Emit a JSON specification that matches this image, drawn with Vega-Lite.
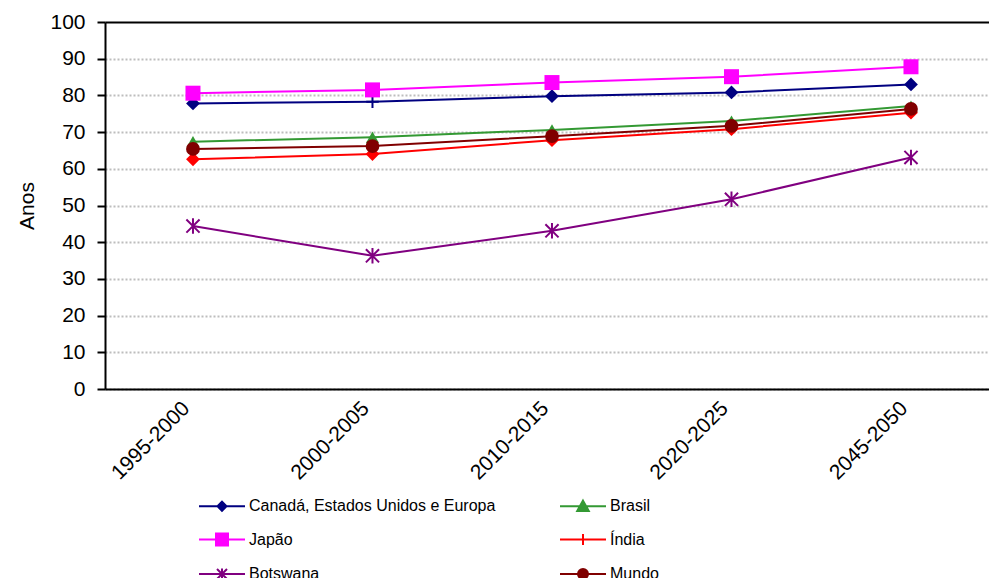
{
  "$schema": "https://vega.github.io/schema/vega-lite/v6.json",
  "width": 884,
  "height": 367,
  "autosize": {"type": "none"},
  "padding": {"left": 105, "top": 22, "right": 0, "bottom": 189},
  "background": "white",
  "config": {"font": "Liberation Sans", "view": {"stroke": null}},
  "data": {
    "values": [
      {"serie": "Canadá, Estados Unidos e Europa", "periodo": "1995-2000", "anos": 77.8},
      {"serie": "Canadá, Estados Unidos e Europa", "periodo": "2000-2005", "anos": 78.3},
      {"serie": "Canadá, Estados Unidos e Europa", "periodo": "2010-2015", "anos": 79.8},
      {"serie": "Canadá, Estados Unidos e Europa", "periodo": "2020-2025", "anos": 80.8},
      {"serie": "Canadá, Estados Unidos e Europa", "periodo": "2045-2050", "anos": 83.0},
      {"serie": "Brasil", "periodo": "1995-2000", "anos": 67.4},
      {"serie": "Brasil", "periodo": "2000-2005", "anos": 68.6},
      {"serie": "Brasil", "periodo": "2010-2015", "anos": 70.6},
      {"serie": "Brasil", "periodo": "2020-2025", "anos": 73.0},
      {"serie": "Brasil", "periodo": "2045-2050", "anos": 77.1},
      {"serie": "Japão", "periodo": "1995-2000", "anos": 80.6},
      {"serie": "Japão", "periodo": "2000-2005", "anos": 81.5},
      {"serie": "Japão", "periodo": "2010-2015", "anos": 83.5},
      {"serie": "Japão", "periodo": "2020-2025", "anos": 85.1},
      {"serie": "Japão", "periodo": "2045-2050", "anos": 87.8},
      {"serie": "Índia", "periodo": "1995-2000", "anos": 62.6},
      {"serie": "Índia", "periodo": "2000-2005", "anos": 64.0},
      {"serie": "Índia", "periodo": "2010-2015", "anos": 67.8},
      {"serie": "Índia", "periodo": "2020-2025", "anos": 70.8},
      {"serie": "Índia", "periodo": "2045-2050", "anos": 75.3},
      {"serie": "Botswana", "periodo": "1995-2000", "anos": 44.4},
      {"serie": "Botswana", "periodo": "2000-2005", "anos": 36.3},
      {"serie": "Botswana", "periodo": "2010-2015", "anos": 43.1},
      {"serie": "Botswana", "periodo": "2020-2025", "anos": 51.7},
      {"serie": "Botswana", "periodo": "2045-2050", "anos": 63.1},
      {"serie": "Mundo", "periodo": "1995-2000", "anos": 65.4},
      {"serie": "Mundo", "periodo": "2000-2005", "anos": 66.2},
      {"serie": "Mundo", "periodo": "2010-2015", "anos": 68.9},
      {"serie": "Mundo", "periodo": "2020-2025", "anos": 71.7},
      {"serie": "Mundo", "periodo": "2045-2050", "anos": 76.3}
    ]
  },
  "encoding": {
    "x": {
      "field": "periodo",
      "type": "ordinal",
      "scale": {"type": "point", "padding": 0.4624, "align": 0.53},
      "axis": {
        "title": null,
        "labelAngle": -45,
        "labelAlign": "right",
        "labelBaseline": "middle",
        "ticks": false,
        "tickSize": 0,
        "labelPadding": 16,
        "labelOffset": -7,
        "labelFontSize": 21,
        "labelColor": "black",
        "domainColor": "black",
        "domainWidth": 2,
        "grid": false
      }
    },
    "y": {
      "field": "anos",
      "type": "quantitative",
      "scale": {"domain": [0, 100], "nice": false, "zero": true},
      "axis": {
        "values": [0, 10, 20, 30, 40, 50, 60, 70, 80, 90, 100],
        "labelOverlap": false,
        "title": "Anos",
        "titleFontSize": 21,
        "titleFontWeight": "normal",
        "titleColor": "black",
        "titlePadding": 12,
        "grid": true,
        "gridColor": {"condition": {"test": "datum.value === 100", "value": "black"}, "value": "#bdbdbd"},
        "gridDash": {"condition": {"test": "datum.value === 100", "value": []}, "value": [2, 2]},
        "gridWidth": 2,
        "domainColor": "black",
        "domainWidth": 2,
        "tickColor": "black",
        "tickWidth": 2,
        "tickSize": 8,
        "labelFontSize": 21,
        "labelColor": "black",
        "labelPadding": 12
      }
    }
  },
  "layer": [
    {
      "mark": {"type": "line", "strokeWidth": 2},
      "encoding": {
        "color": {
          "field": "serie",
          "type": "nominal",
          "scale": {
            "domain": ["Canadá, Estados Unidos e Europa", "Brasil", "Japão", "Índia", "Botswana", "Mundo"],
            "range": ["#000080", "#339933", "#FF00FF", "#FF0000", "#800080", "#800000"]
          },
          "legend": null
        }
      }
    },
    {
      "transform": [{"filter": "datum.serie === 'Canadá, Estados Unidos e Europa' && datum.periodo !== '2000-2005'"}],
      "mark": {"type": "point", "shape": "diamond", "filled": true, "opacity": 1, "size": 190},
      "encoding": {"color": {"field": "serie", "type": "nominal", "legend": null}}
    },
    {
      "transform": [{"filter": "datum.serie === 'Canadá, Estados Unidos e Europa' && datum.periodo === '2000-2005'"}],
      "mark": {"type": "point", "shape": "M0,-1V1M-1,0H1", "filled": false, "opacity": 1, "strokeWidth": 2, "size": 156},
      "encoding": {"color": {"field": "serie", "type": "nominal", "legend": null}}
    },
    {
      "transform": [{"filter": "datum.serie === 'Brasil'"}],
      "mark": {"type": "point", "shape": "triangle-up", "filled": true, "opacity": 1, "size": 170},
      "encoding": {"color": {"field": "serie", "type": "nominal", "legend": null}}
    },
    {
      "transform": [{"filter": "datum.serie === 'Japão'"}],
      "mark": {"type": "point", "shape": "square", "filled": true, "opacity": 1, "size": 225},
      "encoding": {"color": {"field": "serie", "type": "nominal", "legend": null}}
    },
    {
      "transform": [{"filter": "datum.serie === 'Índia'"}],
      "mark": {"type": "point", "shape": "diamond", "filled": true, "opacity": 1, "size": 190},
      "encoding": {"color": {"field": "serie", "type": "nominal", "legend": null}}
    },
    {
      "transform": [{"filter": "datum.serie === 'Botswana'"}],
      "mark": {"type": "point", "shape": "M0,-1V1M-0.85,-0.85L0.85,0.85M-0.85,0.85L0.85,-0.85", "filled": false, "opacity": 1, "strokeWidth": 2, "size": 240},
      "encoding": {"color": {"field": "serie", "type": "nominal", "legend": null}}
    },
    {
      "transform": [{"filter": "datum.serie === 'Mundo'"}],
      "mark": {"type": "point", "shape": "circle", "filled": true, "opacity": 1, "size": 190},
      "encoding": {"color": {"field": "serie", "type": "nominal", "legend": null}}
    },
    {
      "mark": {"type": "point", "filled": true, "opacity": 0},
      "encoding": {
        "fill": {
          "field": "serie",
          "type": "nominal",
          "scale": {
            "domain": ["Canadá, Estados Unidos e Europa", "Japão", "Botswana", "Brasil", "Índia", "Mundo"],
            "range": ["#000080", "#FF00FF", "#800080", "#339933", "#FF0000", "#800000"]
          },
          "legend": {
            "orient": "none", "legendX": 109, "legendY": 476, "columns": 2, "title": null,
            "labelFontSize": 16, "labelColor": "black", "labelLimit": 400, "labelOffset": 19,
            "columnPadding": 60, "rowPadding": 14.5, "symbolSize": 100, "symbolStrokeWidth": 2, "symbolOpacity": 1,
            "encode": {"symbols": {"update": {"fill": {"scale": "fill", "field": "value"}, "stroke": {"scale": "stroke", "field": "value"}, "strokeWidth": {"value": 2}}}}
          }
        },
        "stroke": {
          "field": "serie",
          "type": "nominal",
          "scale": {
            "domain": ["Canadá, Estados Unidos e Europa", "Japão", "Botswana", "Brasil", "Índia", "Mundo"],
            "range": ["#000080", "#FF00FF", "#800080", "#339933", "#FF0000", "#800000"]
          },
          "legend": {
            "orient": "none", "legendX": 109, "legendY": 476, "columns": 2, "title": null,
            "labelFontSize": 16, "labelColor": "black", "labelLimit": 400, "labelOffset": 19,
            "columnPadding": 60, "rowPadding": 14.5, "symbolSize": 100, "symbolStrokeWidth": 2, "symbolOpacity": 1,
            "encode": {"symbols": {"update": {"fill": {"scale": "fill", "field": "value"}, "stroke": {"scale": "stroke", "field": "value"}, "strokeWidth": {"value": 2}}}}
          }
        },
        "shape": {
          "field": "serie",
          "type": "nominal",
          "scale": {
            "domain": ["Canadá, Estados Unidos e Europa", "Japão", "Botswana", "Brasil", "Índia", "Mundo"],
            "range": [
              "M-4.6,0H4.6M0,-0.9L0.9,0L0,0.9L-0.9,0Z",
              "M-4.6,0H4.6M-1.2,-1.2H1.2V1.2H-1.2Z",
              "M-4.6,0H4.6M0,-1.1V1.1M-1,-1L1,1M-1,1L1,-1",
              "M-4.6,0H4.6M0,-1.1L1.15,0.95H-1.15Z",
              "M-4.6,0H4.6M0,-1.1V1.1",
              "M-4.6,0H4.6M-1,0A1,1,0,1,0,1,0A1,1,0,1,0,-1,0Z"
            ]
          },
          "legend": {
            "orient": "none", "legendX": 109, "legendY": 476, "columns": 2, "title": null,
            "labelFontSize": 16, "labelColor": "black", "labelLimit": 400, "labelOffset": 19,
            "columnPadding": 60, "rowPadding": 14.5, "symbolSize": 100, "symbolStrokeWidth": 2, "symbolOpacity": 1,
            "encode": {"symbols": {"update": {"fill": {"scale": "fill", "field": "value"}, "stroke": {"scale": "stroke", "field": "value"}, "strokeWidth": {"value": 2}}}}
          }
        }
      }
    }
  ]
}
